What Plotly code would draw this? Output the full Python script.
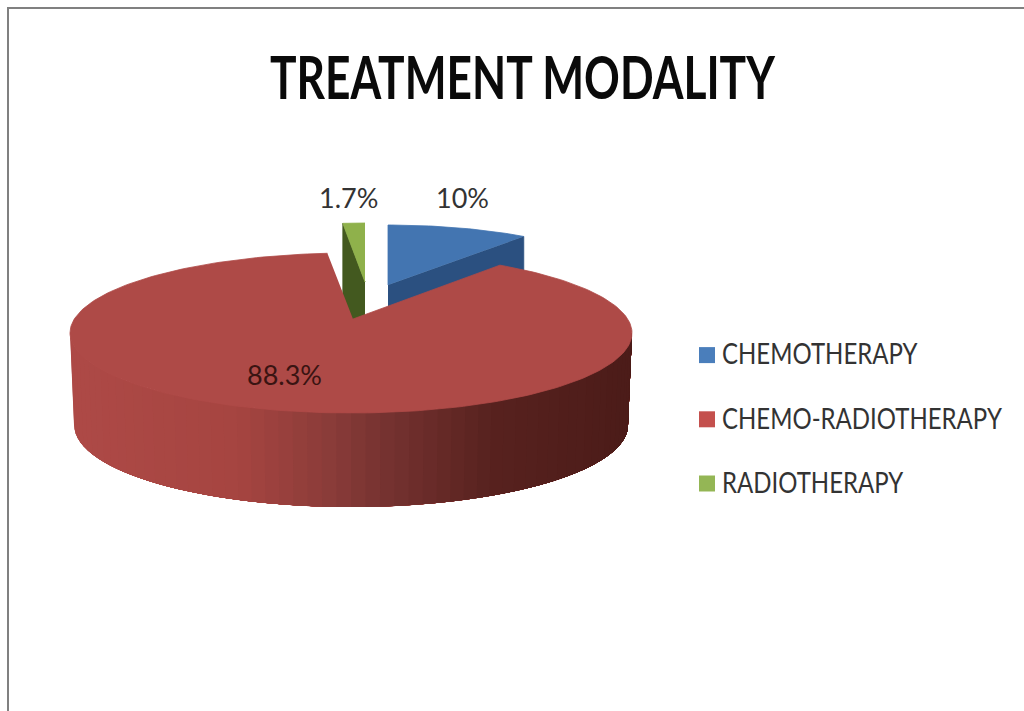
import numpy as np
import plotly.graph_objects as go

# ---- data ----
categories = ["CHEMOTHERAPY", "CHEMO-RADIOTHERAPY", "RADIOTHERAPY"]
values = [10.0, 88.3, 1.7]
value_labels = ["10%", "88.3%", "1.7%"]
title_text = "TREATMENT MODALITY"

# ---- style ----
top_cols = ["#4375B1", "#AE4A47", "#8FB14B"]
wall_cols = ["#2B5080", None, "#43591F"]
swatch_cols = ["#4A7EBB", "#C4504D", "#94B655"]
FONT = "Lato"

# projection of each exploded slice, in picture pixels
blue_c = (388, 285, 231, 60)
green_c = (365, 282, 208, 59)
red_apex = (353, 319)
red_c = (351, 333, 281, 80)                 # top rim ellipse
red_b = (351, 425, 277, 82)                 # bottom rim ellipse
red_trim = (-4.0, 1.3)                      # perspective widening of red sector, degrees
depth = 92

# cumulative angles, clockwise from twelve o'clock
cum = np.cumsum([0] + values) / sum(values) * 360
th = list(zip(cum[:-1], cum[1:]))


def rim(c, deg):
    cx, cy, rx, ry = c
    a = np.radians(deg)
    return cx + rx * np.sin(a), cy - ry * np.cos(a)


fig = go.Figure()


def poly(x, y, col, lw=0.8):
    fig.add_trace(go.Scatter(x=list(x), y=list(y), mode="lines", fill="toself",
                             fillcolor=col, line=dict(color=col, width=lw),
                             hoverinfo="skip", showlegend=False))


def far_slice(i, c, wall_deg):
    wx, wy = rim(c, wall_deg)
    poly([c[0], wx, wx, c[0]], [c[1], wy, wy + depth, c[1] + depth], wall_cols[i])
    d = np.linspace(th[i][0], th[i][1], 40)
    x, y = rim(c, d)
    poly(np.r_[c[0], x], np.r_[c[1], y], top_cols[i])


far_slice(0, blue_c, th[0][1])
far_slice(2, green_c, th[2][0])

# red side wall, shaded left to right; strips overlap so no seams show
stops_t = [0.0, 0.30, 0.45, 0.55, 0.75, 1.0]
stops_rgb = np.array([[174, 74, 71], [166, 69, 65], [141, 61, 58],
                      [120, 52, 50], [88, 34, 31], [76, 28, 25]], float)
edges = np.linspace(270, 90, 61)   # left to right along the front
for k, d0 in enumerate(edges[:-1]):
    mid = (d0 + edges[k + 1]) / 2
    seg = np.linspace(d0, 90, 30)
    xt, yt = rim(red_c, seg)
    xb, yb = rim(red_b, seg)
    t = (rim(red_c, mid)[0] - 70) / 562
    rgb = [np.interp(t, stops_t, stops_rgb[:, j]) for j in range(3)]
    poly(np.r_[xt, xb[::-1]], np.r_[yt, yb[::-1]], "rgb(%d,%d,%d)" % tuple(rgb), lw=0)

# red top face
d = np.linspace(th[1][0] + red_trim[0], th[1][1] + red_trim[1], 240)
x, y = rim(red_c, d)
poly(np.r_[red_apex[0], x], np.r_[red_apex[1], y], top_cols[1])

# legend entries
for name, col in zip(categories, swatch_cols):
    fig.add_trace(go.Scatter(x=[None], y=[None], mode="markers", name=name, legendgroup=name,
                             marker=dict(symbol="square", size=19, color=col)))

# data labels
label_pos = [(462, 197), (284, 374), (348, 197)]
label_cols = ["#333333", "#3A1412", "#333333"]
annos = [dict(x=p[0], y=p[1], text=t, showarrow=False, xref="x", yref="y",
              font=dict(family=FONT, size=27, color=c))
         for t, p, c in zip(value_labels, label_pos, label_cols)]
annos.append(dict(x=522, y=76, text=title_text, showarrow=False, xref="x", yref="y",
                  font=dict(family=FONT, size=60, weight=700, color="#0A0A0A")))

fig.update_layout(
    width=1024, height=711, margin=dict(l=0, r=0, t=0, b=0),
    paper_bgcolor="white", plot_bgcolor="white",
    xaxis=dict(range=[0, 1024], visible=False, fixedrange=True),
    yaxis=dict(range=[711, 0], visible=False, fixedrange=True),
    annotations=annos,
    shapes=[dict(type="rect", xref="x", yref="y", x0=8, y0=8, x1=1200, y1=900,
                 line=dict(color="#808080", width=2), layer="above")],
    legend=dict(x=687 / 1024, y=1 - 333 / 711, xanchor="left", yanchor="top",
                bgcolor="rgba(0,0,0,0)",
                font=dict(family=FONT, size=24, color="#333333"), tracegroupgap=30,
                itemclick=False, itemdoubleclick=False),
    showlegend=True,
)

# the picture's lettering is narrow and tall: squeeze/stretch real text to the measured sizes
post = """
document.body.style.margin='0';document.body.style.overflow='hidden';
document.querySelectorAll('.annotation-text').forEach(function(t){
  if(t.textContent.indexOf('MODALITY')>=0){
    var w=505, b=t.getBBox(), cx=b.x+b.width/2;
    t.setAttribute('textLength',w);
    t.setAttribute('lengthAdjust','spacingAndGlyphs');
    t.setAttribute('x',cx-w/2);
    t.style.textAnchor='start';
  }
});
document.querySelectorAll('.legendtext').forEach(function(t){
  var s=1.17, y=parseFloat(t.getAttribute('y'))||0;
  t.setAttribute('transform','translate(-5,'+(y*(1-s))+') scale(1,'+s+')');
});
"""
fig.write_html("out.html", config={"displayModeBar": False}, post_script=post)
